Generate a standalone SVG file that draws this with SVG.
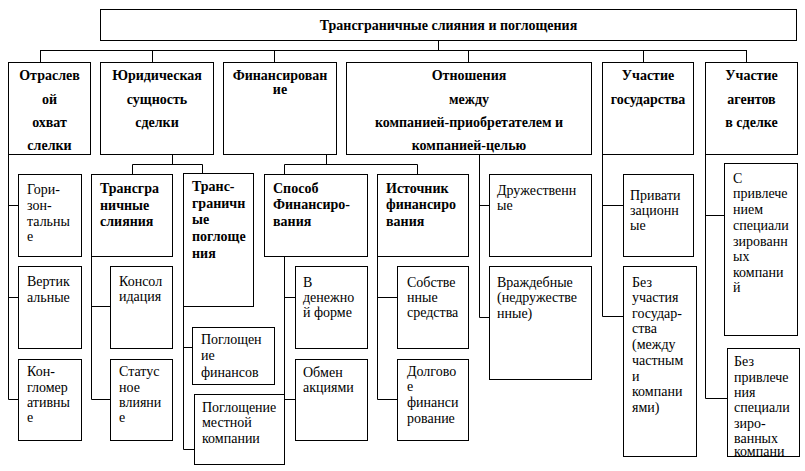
<svg xmlns="http://www.w3.org/2000/svg" width="805" height="471" viewBox="0 0 805 471" font-family="'Times New Roman', 'Liberation Serif', serif" font-size="14">
<style>
rect{fill:#fff;stroke:#000;stroke-width:1}
.c path{fill:none;stroke:#000;stroke-width:1}
text{font-family:'Times New Roman','Liberation Serif',serif;font-size:14px;fill:#000}
.h{font-weight:bold;text-anchor:middle}
.b{font-weight:bold}
</style>
<rect x="0" y="0" width="805" height="471" style="fill:#fff;stroke:none"/>
<g class="c">
<path d="M438.5,40 V50.5 M40.5,50.5 H746.5 M40.5,50 V62 M152.5,50 V62 M274.5,50 V62 M468.5,50 V62 M643.5,50 V62 M746.5,50 V62"/>
<path d="M8.5,154 V399.5 H18 M8.5,205.5 H18 M8.5,297.5 H18"/>
<path d="M172.5,154 V164.5 M132.5,164.5 H202.5 M132.5,164.5 V174 M202.5,164.5 V173"/>
<path d="M91.5,256 V399.5 H110 M91.5,306.5 H110"/>
<path d="M183.5,306 V449.5 H194 M183.5,347.5 H192"/>
<path d="M326.5,154 V164.5 M284.5,164.5 H417.5 M284.5,164.5 V174 M417.5,164.5 V174"/>
<path d="M284.5,256 V399.5 H295 M284.5,297.5 H295"/>
<path d="M377.5,256 V399.5 H397 M377.5,297.5 H397"/>
<path d="M479.5,154 V317.5 H489 M479.5,205.5 H489"/>
<path d="M602.5,154 V316.5 H623 M602.5,205.5 H623"/>
<path d="M705.5,154 V398.5 H727 M705.5,215.5 H724"/>
</g>
<g id="title"><rect x="100.5" y="9.5" width="696" height="31"/><text class="h" x="448.5" y="30">Трансграничные слияния и поглощения</text></g>
<g id="n1"><rect x="8.5" y="62.5" width="82" height="92"/><text class="h" x="49.5" y="80">Отраслев</text><text class="h" x="49.5" y="103.5">ой</text><text class="h" x="49.5" y="127">охват</text><text class="h" x="49.5" y="150">слелки</text></g>
<g id="n2"><rect x="100.5" y="62.5" width="113" height="92"/><text class="h" x="157" y="80">Юридическая</text><text class="h" x="157" y="103.5">сущность</text><text class="h" x="157" y="127">сделки</text></g>
<g id="n3"><rect x="223.5" y="62.5" width="113" height="92"/><text class="h" x="280" y="80">Финансирован</text><text class="h" x="280" y="94">ие</text></g>
<g id="n4"><rect x="346.5" y="62.5" width="245" height="92"/><text class="h" x="469" y="80">Отношения</text><text class="h" x="469" y="103.5">между</text><text class="h" x="469" y="127">компанией-приобретателем и</text><text class="h" x="469" y="150">компанией-целью</text></g>
<g id="n5"><rect x="602.5" y="62.5" width="91" height="92"/><text class="h" x="648" y="80">Участие</text><text class="h" x="648" y="104">государства</text></g>
<g id="n6"><rect x="705.5" y="62.5" width="92" height="92"/><text class="h" x="751.5" y="80">Участие</text><text class="h" x="751.5" y="103.5">агентов</text><text class="h" x="751.5" y="127">в сделке</text></g>
<g id="gor"><rect x="18.5" y="174.5" width="63" height="82"/><text x="27" y="193.5">Гори-</text><text x="27" y="209.5">зон-</text><text x="27" y="225.5">тальны</text><text x="27" y="241">е</text></g>
<g id="vert"><rect x="18.5" y="266.5" width="63" height="82"/><text x="27" y="286">Вертик</text><text x="27" y="301.5">альные</text></g>
<g id="kong"><rect x="18.5" y="359.5" width="63" height="81"/><text x="27" y="376">Кон-</text><text x="27" y="391.5">гломер</text><text x="27" y="407">ативны</text><text x="27" y="422">е</text></g>
<g id="tsl"><rect x="91.5" y="174.5" width="81" height="82"/><text class="b" x="100" y="193">Трансгра</text><text class="b" x="100" y="209.5">ничные</text><text class="b" x="100" y="225.5">слияния</text></g>
<g id="tpg"><rect x="183.5" y="173.5" width="70" height="133"/><text class="b" x="192" y="191">Транс-</text><text class="b" x="192" y="208">граничн</text><text class="b" x="192" y="224">ые</text><text class="b" x="192" y="241">поглоще</text><text class="b" x="192" y="257.5">ния</text></g>
<g id="kons"><rect x="110.5" y="266.5" width="62" height="82"/><text x="119" y="285.5">Консол</text><text x="119" y="300.5">идация</text></g>
<g id="stat"><rect x="110.5" y="359.5" width="62" height="81"/><text x="119" y="376">Статус</text><text x="119" y="391.5">ное</text><text x="119" y="407">влияни</text><text x="119" y="422">е</text></g>
<g id="pfin"><rect x="192.5" y="327.5" width="82" height="57"/><text x="201" y="343.5">Поглощен</text><text x="201" y="360">ие</text><text x="201" y="376.5">финансов</text></g>
<g id="pmest"><rect x="194.5" y="394.5" width="90" height="70"/><text x="202" y="411.5">Поглощение</text><text x="202" y="427">местной</text><text x="202" y="442.5">компании</text></g>
<g id="spos"><rect x="264.5" y="174.5" width="103" height="82"/><text class="b" x="273" y="193">Способ</text><text class="b" x="273" y="209">Финансиро-</text><text class="b" x="273" y="225.5">вания</text></g>
<g id="ist"><rect x="377.5" y="174.5" width="91" height="82"/><text class="b" x="386" y="193">Источник</text><text class="b" x="386" y="209">финансиро</text><text class="b" x="386" y="225.5">вания</text></g>
<g id="den"><rect x="295.5" y="266.5" width="72" height="82"/><text x="303" y="286.5">В</text><text x="303" y="301.5">денежно</text><text x="303" y="316.5">й форме</text></g>
<g id="obm"><rect x="295.5" y="359.5" width="72" height="81"/><text x="303" y="376.5">Обмен</text><text x="303" y="392">акциями</text></g>
<g id="sobs"><rect x="397.5" y="266.5" width="71" height="82"/><text x="407" y="286.5">Собстве</text><text x="407" y="301.5">нные</text><text x="407" y="316.5">средства</text></g>
<g id="dolg"><rect x="397.5" y="359.5" width="71" height="81"/><text x="407" y="375.5">Долгово</text><text x="407" y="391">е</text><text x="407" y="407">финанси</text><text x="407" y="422.5">рование</text></g>
<g id="druz"><rect x="489.5" y="174.5" width="102" height="82"/><text x="497" y="195">Дружественн</text><text x="497" y="210">ые</text></g>
<g id="vrazh"><rect x="489.5" y="266.5" width="102" height="113"/><text x="497" y="286.5">Враждебные</text><text x="497" y="301.5">(недружестве</text><text x="497" y="317.5">нные)</text></g>
<g id="priv"><rect x="623.5" y="174.5" width="70" height="82"/><text x="630" y="199.5">Привати</text><text x="630" y="215">зационн</text><text x="630" y="230">ые</text></g>
<g id="bezg"><rect x="623.5" y="266.5" width="73" height="190"/><text x="632" y="286.5">Без</text><text x="632" y="301.5">участия</text><text x="632" y="317.5">государ-</text><text x="632" y="333">ства</text><text x="632" y="349">(между</text><text x="632" y="365">частным</text><text x="632" y="380.5">и</text><text x="632" y="396">компани</text><text x="632" y="411.5">ями)</text></g>
<g id="spriv"><rect x="724.5" y="163.5" width="73" height="172"/><text x="733" y="182.5">С</text><text x="733" y="197.5">привлече</text><text x="733" y="213.5">нием</text><text x="733" y="229.5">специали</text><text x="733" y="245.5">зированн</text><text x="733" y="260.5">ых</text><text x="733" y="276.5">компани</text><text x="733" y="291.5">й</text></g>
<g id="bezpr"><rect x="727.5" y="348.5" width="72" height="108"/><text x="734" y="365.5">Без</text><text x="734" y="381.5">привлече</text><text x="734" y="396.5">ния</text><text x="734" y="411.5">специали</text><text x="734" y="427.5">зиро-</text><text x="734" y="442.5">ванных</text><text x="734" y="456">компани</text></g>
</svg>
